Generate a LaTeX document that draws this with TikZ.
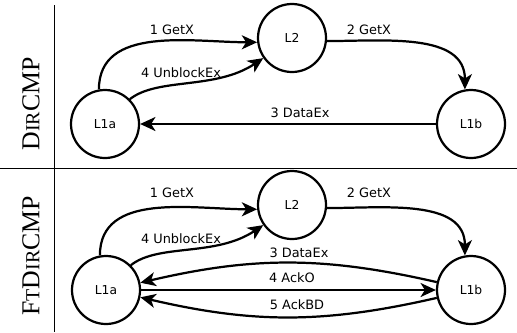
\documentclass[tikz,border=0pt]{standalone}
\usepackage{fontspec}
\setmainfont{Liberation Serif}
\newfontfamily\msgfont{DejaVu Sans}
\usetikzlibrary{arrows.meta}

\begin{document}
\begin{tikzpicture}[x=0.03cm, y=-0.03cm,
    cache/.style={draw, circle, line width=1.9pt, minimum size=2.04cm, inner sep=0pt, font=\msgfont\fontsize{10.5}{12}\selectfont},
    msg/.style={line width=1.9pt, -{Stealth[length=4.6mm, width=4.2mm, inset=1.3mm]}},
    lbl/.style={inner sep=0pt, font=\msgfont\fontsize{11}{12}\selectfont},
    proto/.style={rotate=90, inner sep=0pt, font=\fontsize{22}{22}\selectfont}]
    \useasboundingbox (0,0) rectangle (517,332);
    \draw[line width=0.8pt](0,168)--(517,168);
    \draw[line width=0.8pt](54,5)--(54,332);
    % DirCMP
    \node[proto] (p1) at (31,104) {D{\fontsize{17}{17}\selectfont IR}CMP};
    \node[cache] (a1) at (105,124) {L1a};
    \node[cache] (b1) at (292,38) {L2};
    \node[cache] (c1) at (471,124) {L1b};
    \draw[msg](a1.100) to[out=90, in=180] (b1.187);
    \draw[msg](a1.45) .. controls +(28,-22) and +(-48,32) .. (b1.215);
    \draw[msg](b1.355) to[out=0, in=90] (c1.100);
    \draw[msg](c1.west)--(a1.east);
    \node[lbl] (m11) at (172,30) {1 GetX};
    \node[lbl] (m12) at (181,73) {4 UnblockEx};
    \node[lbl] (m13) at (369,30) {2 GetX};
    \node[lbl] (m14) at (300,113) {3 DataEx};
    % FtDirCMP
    \node[proto] (p2) at (31,256) {F{\fontsize{17}{17}\selectfont T}D{\fontsize{17}{17}\selectfont IR}CMP};
    \node[cache] (a2) at (106,290) {L1a};
    \node[cache] (b2) at (292,205) {L2};
    \node[cache] (c2) at (471,290) {L1b};
    \draw[msg](a2.100) to[out=90, in=180] (b2.187);
    \draw[msg](a2.45) .. controls +(28,-22) and +(-48,32) .. (b2.215);
    \draw[msg](b2.355) to[out=0, in=90] (c2.100);
    \draw[msg](c2.167) to[bend right=13] (a2.12);
    \draw[msg](a2.east)--(c2.west);
    \draw[msg](c2.193) to[bend left=13] (a2.348);
    \node[lbl] (m21) at (172,193) {1 GetX};
    \node[lbl] (m22) at (181,239) {4 UnblockEx};
    \node[lbl] (m23) at (369,193) {2 GetX};
    \node[lbl] (m24) at (299,253) {3 DataEx};
    \node[lbl] (m25) at (292,278) {4 AckO};
    \node[lbl] (m26) at (297,305) {5 AckBD};
\end{tikzpicture}
\end{document}
